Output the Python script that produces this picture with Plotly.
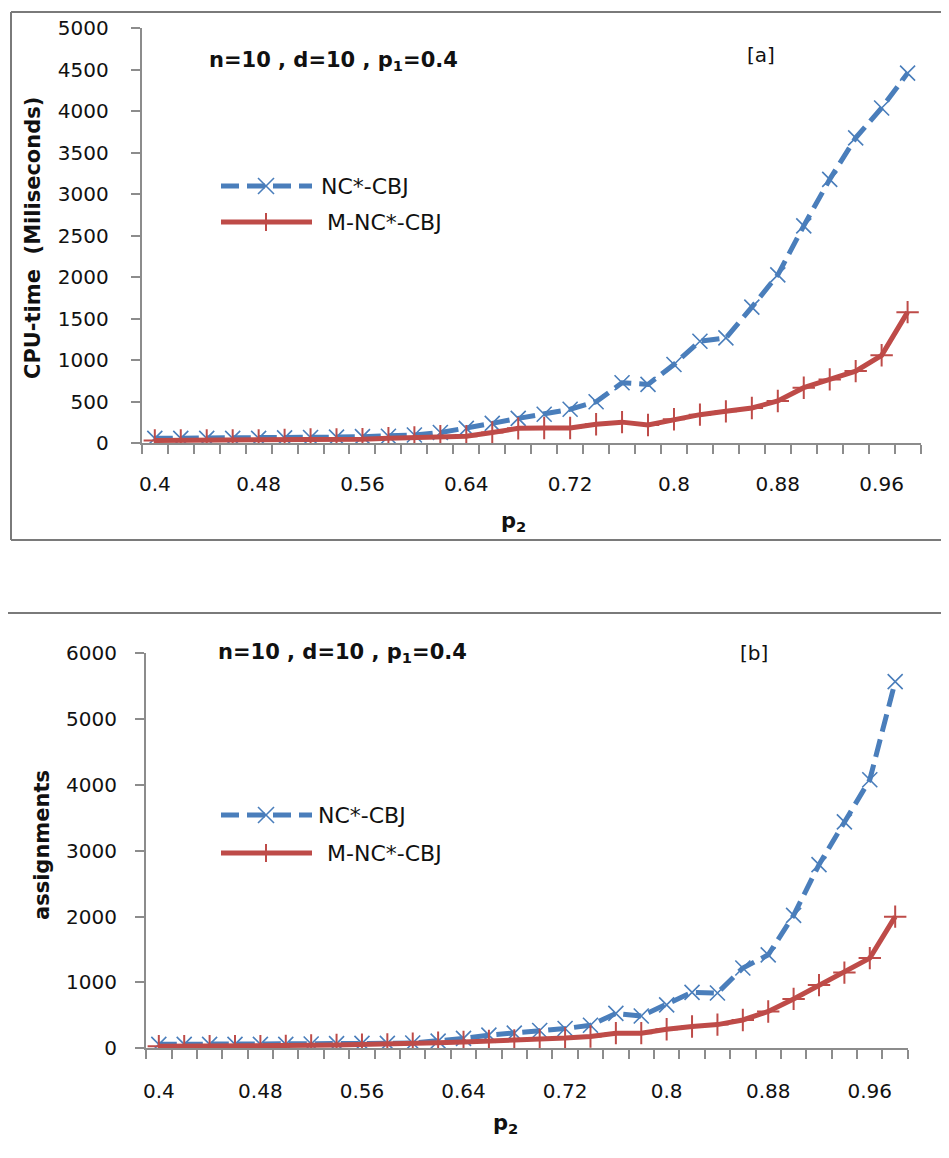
import plotly.graph_objects as go

# page is 949x1158; the html body keeps an 8px margin, so the figure is 933x1142
W, H = 933, 1142
OFF = 8

# ---------------- data ----------------
p2 = [0.40, 0.42, 0.44, 0.46, 0.48, 0.50, 0.52, 0.54, 0.56, 0.58,
      0.60, 0.62, 0.64, 0.66, 0.68, 0.70, 0.72, 0.74, 0.76, 0.78,
      0.80, 0.82, 0.84, 0.86, 0.88, 0.90, 0.92, 0.94, 0.96, 0.98]

cpu_nc = [60, 60, 60, 60, 60, 65, 70, 75, 80, 85,
          100, 130, 180, 240, 300, 350, 410, 500, 730, 710,
          950, 1230, 1270, 1640, 2030, 2620, 3180, 3680, 4040, 4460]
cpu_mnc = [35, 35, 35, 35, 35, 40, 45, 45, 50, 60,
           70, 85, 85, 130, 180, 185, 185, 230, 255, 220,
           290, 345, 385, 425, 510, 670, 770, 870, 1060, 1580]

asg_nc = [60, 60, 60, 60, 60, 60, 65, 70, 75, 75,
          80, 110, 150, 200, 230, 270, 300, 350, 530, 490,
          660, 850, 840, 1220, 1420, 2020, 2790, 3440, 4080, 5570]
asg_mnc = [30, 30, 30, 30, 30, 35, 45, 50, 55, 60,
           70, 85, 95, 110, 120, 125, 155, 180, 230, 230,
           290, 330, 360, 430, 560, 750, 960, 1150, 1370, 2000]

x_tickvals = [0.40, 0.48, 0.56, 0.64, 0.72, 0.80, 0.88, 0.96]
x_ticktext = ["0.4", "0.48", "0.56", "0.64", "0.72", "0.8", "0.88", "0.96"]
series_names = ["NC*-CBJ", "M-NC*-CBJ"]

# ---------------- styles ----------------
BLUE = "#4A7EBB"
RED = "#BE4B48"
AXC = "#8C8C8C"
BORDER = "#7A7A7A"
FONT = "DejaVu Sans"
DASH = "18px,8px"

def px_x(v):
    return (v - OFF) / W

def px_y(v):
    return 1 - (v - OFF) / H

fig = go.Figure()

def add_pair(xa, ya, nc, mnc):
    fig.add_trace(go.Scatter(
        x=p2, y=nc, name=series_names[0], xaxis=xa, yaxis=ya,
        mode="lines+markers", showlegend=False,
        line=dict(color=BLUE, width=5, dash=DASH),
        marker=dict(symbol="x-thin", size=15, line=dict(color=BLUE, width=1.6)),
    ))
    fig.add_trace(go.Scatter(
        x=p2, y=mnc, name=series_names[1], xaxis=xa, yaxis=ya,
        mode="lines+markers", showlegend=False,
        line=dict(color=RED, width=5),
        marker=dict(symbol="cross-thin", size=16, line=dict(color=RED, width=2)),
    ))

add_pair("x", "y", cpu_nc, cpu_mnc)
add_pair("x2", "y2", asg_nc, asg_mnc)

minor_vals = [round(0.39 + 0.02 * k, 2) for k in range(31)]

def xaxis_cfg(d0, d1, anchor, standoff):
    return dict(
        domain=[px_x(d0), px_x(d1)], anchor=anchor, automargin=False,
        range=[0.3899, 0.9901],
        tickmode="array", tickvals=x_tickvals, ticktext=x_ticktext,
        ticks="", showgrid=False, zeroline=False,
        showline=True, linecolor=AXC, linewidth=2,
        tickfont=dict(family=FONT, size=20, color="#111111"),
        ticklabelstandoff=standoff,
        minor=dict(tickmode="array", tickvals=minor_vals, ticks="outside",
                   ticklen=9, tickwidth=2, tickcolor=AXC, showgrid=False),
    )

def yaxis_cfg(y0px, y1px, rng, dt, anchor, standoff):
    return dict(
        domain=[px_y(y0px), px_y(y1px)], anchor=anchor, automargin=False,
        range=rng, dtick=dt, tick0=0, tickmode="linear",
        ticks="outside", ticklen=9, tickwidth=2, tickcolor=AXC,
        showgrid=False, zeroline=False,
        showline=True, linecolor=AXC, linewidth=2,
        tickfont=dict(family=FONT, size=20, color="#111111"),
        ticklabelstandoff=standoff,
    )

fig.update_layout(
    template="none",
    width=W, height=H, autosize=False,
    margin=dict(l=0, r=0, t=0, b=0, pad=0, autoexpand=False),
    paper_bgcolor="white", plot_bgcolor="white",
    xaxis=xaxis_cfg(141.7, 920.7, "y", 22),
    yaxis=yaxis_cfg(443.3, 28.3, [0, 5000], 500, "x", 18),
    xaxis2=xaxis_cfg(146, 908, "y2", 24),
    yaxis2=yaxis_cfg(1048.3, 653.3, [0, 6000], 1000, "x2", 14),
    showlegend=False,
)

def seg(x0, y0, x1, y1, color, width, dash="solid"):
    fig.add_shape(type="line", xref="paper", yref="paper",
                  x0=px_x(x0), y0=px_y(y0), x1=px_x(x1), y1=px_y(y1),
                  line=dict(color=color, width=width, dash=dash))

# panel borders (right and lower edges fall outside the picture)
seg(11, 12, 949, 12, BORDER, 2)
seg(11, 12, 11, 540, BORDER, 2)
seg(11, 540, 949, 540, BORDER, 2)
seg(6, 613, 949, 613, BORDER, 2)
seg(6, 613, 6, 1158, BORDER, 2)

def ann(text, xpx, ypx, size, bold=False, angle=0, xanchor="center"):
    fig.add_annotation(
        text=f"<b>{text}</b>" if bold else text,
        xref="paper", yref="paper", x=px_x(xpx), y=px_y(ypx),
        xanchor=xanchor, yanchor="middle", showarrow=False, textangle=angle,
        font=dict(family=FONT, size=size, color="#111111"),
    )

def legend_block(y_nc, y_mnc, tx_nc, tx_mnc):
    # NC*-CBJ sample: dashed line with an x marker in the middle
    seg(221, y_nc, 312, y_nc, BLUE, 5, DASH)
    seg(258, y_nc - 8, 274, y_nc + 8, BLUE, 1.6)
    seg(258, y_nc + 8, 274, y_nc - 8, BLUE, 1.6)
    ann(series_names[0], tx_nc, y_nc, 22, xanchor="left")
    # M-NC*-CBJ sample: solid line with a cross marker
    seg(221, y_mnc, 312, y_mnc, RED, 5)
    seg(266, y_mnc - 9, 266, y_mnc + 9, RED, 2)
    ann(series_names[1], tx_mnc, y_mnc, 22, xanchor="left")

legend_block(186, 222, 319, 325)
legend_block(815, 853, 316, 325)

# panel a texts
ann("n=10 , d=10 , p<sub>1</sub>=0.4", 333, 61, 21, bold=True)
ann("[a]", 761, 55, 20)
ann("CPU-time  (Miliseconds)", 33, 238, 21, bold=True, angle=-90)
ann("p<sub>2</sub>", 513, 522, 21, bold=True)

# panel b texts
ann("n=10 , d=10 , p<sub>1</sub>=0.4", 342, 653, 21, bold=True)
ann("[b]", 754, 653, 20)
ann("assignments", 42, 845, 21, bold=True, angle=-90)
ann("p<sub>2</sub>", 505, 1124, 21, bold=True)

fig.write_html("out.html")
